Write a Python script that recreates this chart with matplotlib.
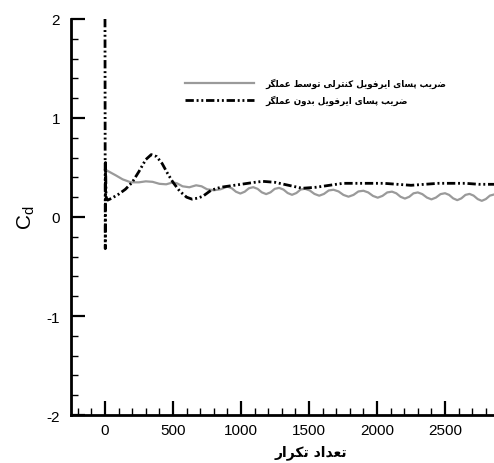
import matplotlib
matplotlib.use("Agg")
import matplotlib.pyplot as plt
from matplotlib.lines import Line2D

plt.rcParams['font.family'] = ['Liberation Sans', 'DejaVu Sans']
plt.rcParams['axes.unicode_minus'] = False

# drag coefficient history, airfoil with actuator (controlled)
iter_ctrl = [0, 40, 80, 130, 190, 250, 300, 350, 400, 450, 500, 530, 570, 620, 670, 710, 750, 800, 850,
             900, 932, 963, 995, 1027, 1058,
             1090, 1122, 1153, 1185, 1217, 1248,
             1280, 1312, 1343, 1375, 1407, 1438,
             1470, 1505, 1540, 1575, 1610, 1645,
             1680, 1717, 1753, 1790, 1827, 1863,
             1900, 1935, 1970, 2005, 2040, 2075,
             2110, 2142, 2173, 2205, 2237, 2268,
             2300, 2333, 2367, 2400, 2433, 2467,
             2500, 2530, 2560, 2590, 2620, 2650,
             2680, 2710, 2740, 2770, 2800, 2830, 2860]
cd_ctrl = [0.48, 0.45, 0.42, 0.38, 0.35, 0.35, 0.36, 0.355, 0.335, 0.33, 0.35, 0.34, 0.31, 0.30, 0.32, 0.31, 0.28, 0.27, 0.28,
           0.307, 0.290, 0.255, 0.237, 0.255, 0.290,
           0.301, 0.284, 0.249, 0.231, 0.249, 0.284,
           0.294, 0.277, 0.242, 0.224, 0.242, 0.277,
           0.285, 0.268, 0.233, 0.215, 0.233, 0.268,
           0.275, 0.258, 0.223, 0.205, 0.223, 0.258,
           0.265, 0.248, 0.213, 0.195, 0.213, 0.248,
           0.256, 0.239, 0.204, 0.186, 0.204, 0.239,
           0.248, 0.231, 0.196, 0.178, 0.196, 0.231,
           0.240, 0.223, 0.188, 0.170, 0.188, 0.223,
           0.233, 0.216, 0.181, 0.163, 0.181, 0.216, 0.227]

# drag coefficient history, airfoil without actuator
iter_base = [0, 2, 4, 8, 20, 50, 100, 150, 200, 250, 300, 340, 380, 420, 460, 500, 550, 600, 640, 680,
             720, 780, 850, 900, 1000, 1100, 1160, 1250, 1350, 1450, 1550, 1650, 1750, 1850, 1950,
             2050, 2150, 2250, 2350, 2450, 2550, 2650, 2750, 2860]
cd_base = [2.0, -0.32, 0.55, 0.20, 0.17, 0.19, 0.23, 0.28, 0.35, 0.46, 0.58, 0.63, 0.61, 0.54, 0.44, 0.35, 0.26, 0.20, 0.18, 0.19,
           0.21, 0.27, 0.30, 0.31, 0.33, 0.35, 0.36, 0.35, 0.32, 0.29, 0.30, 0.32, 0.34, 0.34, 0.34,
           0.34, 0.33, 0.32, 0.33, 0.34, 0.34, 0.34, 0.33, 0.33]

x_ticks = [0, 500, 1000, 1500, 2000, 2500]
y_ticks = [-2, -1, 0, 1, 2]

label_ctrl = "ضریب پسای ایرفویل کنترلی توسط عملگر"
label_base = "ضریب پسای ایرفویل بدون عملگر"
x_title = "تعداد تکرار"

# contextual forms: isolated, final, initial, medial
FORMS = {
    'ا': ('\ufe8d', '\ufe8e'),
    'د': ('\ufea9', '\ufeaa'),
    'ر': ('\ufead', '\ufeae'),
    'و': ('\ufeed', '\ufeee'),
    'ب': ('\ufe8f', '\ufe90', '\ufe91', '\ufe92'),
    'پ': ('\ufb56', '\ufb57', '\ufb58', '\ufb59'),
    'ت': ('\ufe95', '\ufe96', '\ufe97', '\ufe98'),
    'س': ('\ufeb1', '\ufeb2', '\ufeb3', '\ufeb4'),
    'ض': ('\ufebd', '\ufebe', '\ufebf', '\ufec0'),
    'ط': ('\ufec1', '\ufec2', '\ufec3', '\ufec4'),
    'ع': ('\ufec9', '\ufeca', '\ufecb', '\ufecc'),
    'ف': ('\ufed1', '\ufed2', '\ufed3', '\ufed4'),
    'ک': ('\ufb8e', '\ufb8f', '\ufb90', '\ufb91'),
    'گ': ('\ufb92', '\ufb93', '\ufb94', '\ufb95'),
    'ل': ('\ufedd', '\ufede', '\ufedf', '\ufee0'),
    'م': ('\ufee1', '\ufee2', '\ufee3', '\ufee4'),
    'ن': ('\ufee5', '\ufee6', '\ufee7', '\ufee8'),
    'ی': ('\ufbfc', '\ufbfd', '\ufbfe', '\ufbff'),
}


def shape(text):
    # join the letters and lay them out right to left
    out = []
    for i, ch in enumerate(text):
        if ch not in FORMS:
            out.append(ch)
            continue
        prev = text[i - 1] if i > 0 else ''
        nxt = text[i + 1] if i + 1 < len(text) else ''
        join_prev = prev in FORMS and len(FORMS[prev]) == 4
        join_next = len(FORMS[ch]) == 4 and nxt in FORMS
        forms = FORMS[ch]
        if join_prev and join_next:
            out.append(forms[3])
        elif join_prev:
            out.append(forms[1])
        elif join_next:
            out.append(forms[2])
        else:
            out.append(forms[0])
    return ''.join(reversed(out))


fig = plt.figure(figsize=(4.94, 4.64), dpi=100)
ax = fig.add_axes([0.1437, 0.1034, 0.8563, 0.8536])

ax.plot(iter_ctrl, cd_ctrl, color='#9a9a9a', lw=1.6, solid_joinstyle='round')
ax.plot(iter_base, cd_base, color='black', lw=2.0, dashes=(3, 1, 0.7, 1, 0.7, 1))

ax.set_xlim(-250, 2860)
ax.set_ylim(-2, 2)
ax.set_xticks(x_ticks)
ax.set_yticks(y_ticks)
ax.set_xticks(range(-200, 2900, 100), minor=True)
ax.set_yticks([v / 5 for v in range(-10, 11)], minor=True)
ax.tick_params(which='major', direction='in', length=10, width=1.6, labelsize=11, pad=6)
ax.tick_params(which='minor', direction='in', length=5, width=1.0)
ax.tick_params(axis='y', pad=8)

for side in ['top', 'right']:
    ax.spines[side].set_visible(False)
for side in ['left', 'bottom']:
    ax.spines[side].set_linewidth(2)

ax.set_ylabel(r'$\mathregular{C_d}$', fontsize=15, labelpad=7)
ax.set_xlabel(shape(x_title), fontsize=10, fontweight='bold', family=['DejaVu Sans'])
ax.xaxis.set_label_coords(0.567, -0.074)

handles = [Line2D([], [], color='#9a9a9a', lw=1.6),
           Line2D([], [], color='black', lw=2.0, dashes=(3, 1, 0.7, 1, 0.7, 1))]
ax.legend(handles, [shape(label_ctrl), shape(label_base)], loc='upper left',
          bbox_to_anchor=(0.25, 0.871), frameon=False, handlelength=7.9, handletextpad=1.3,
          labelspacing=0.75, prop={'family': 'DejaVu Sans', 'weight': 'bold', 'size': 6.3})

fig.savefig('out.png', dpi=100)
